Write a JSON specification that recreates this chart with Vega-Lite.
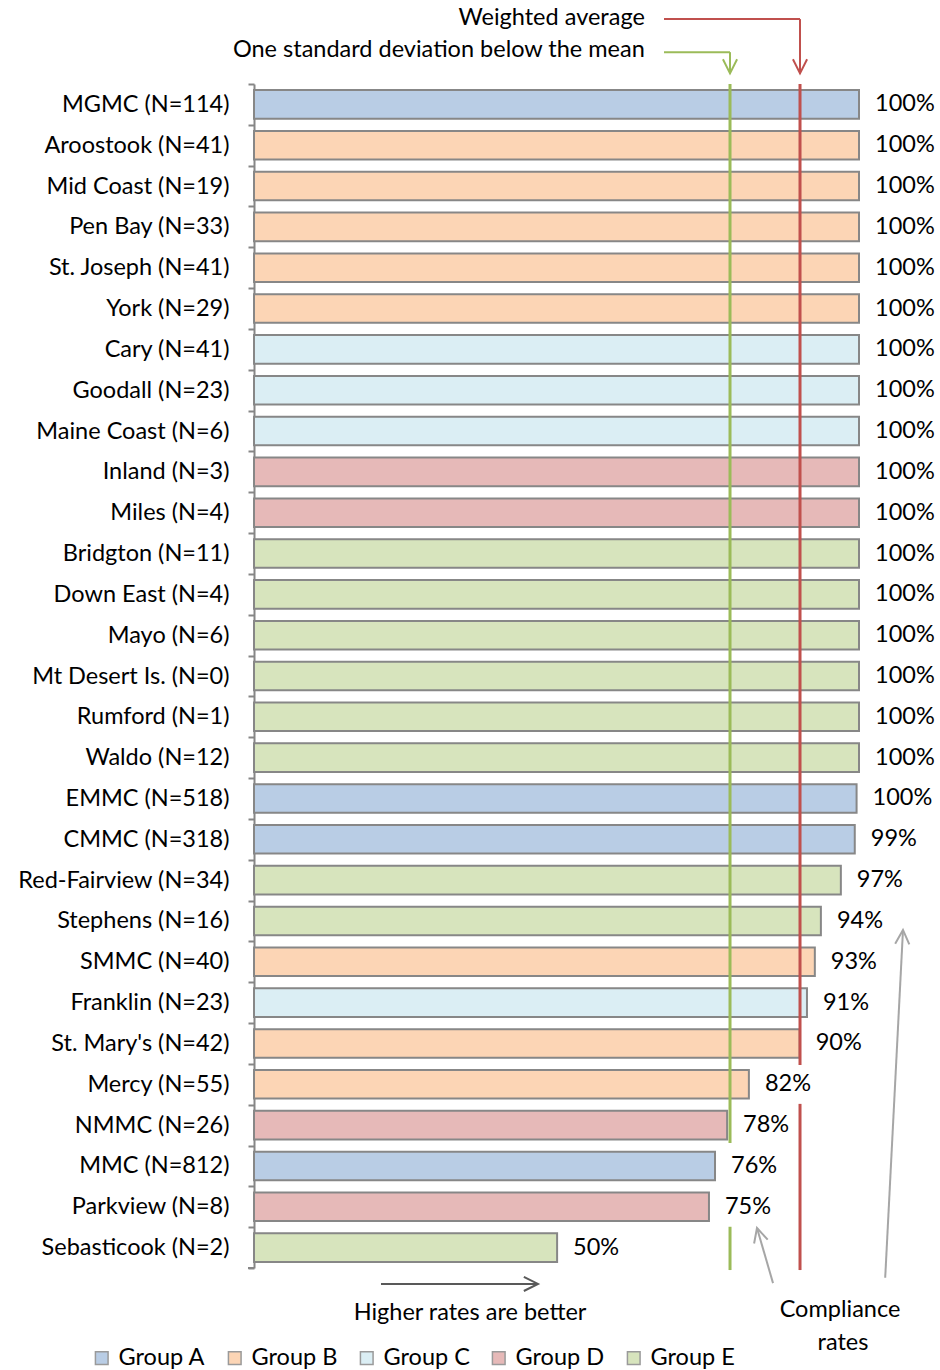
{
  "$schema": "https://vega.github.io/schema/vega-lite/v6.json",
  "width": 605,
  "height": 1184,
  "autosize": {"type": "none"},
  "padding": {"left": 254, "top": 84, "right": 81, "bottom": 102},
  "background": "white",
  "config": {"view": {"stroke": null}, "font": "Lato"},
  "datasets": {
    "rates": [
      {"name": "MGMC (N=114)", "group": "Group A", "rate": 1.0},
      {"name": "Aroostook (N=41)", "group": "Group B", "rate": 1.0},
      {"name": "Mid Coast  (N=19)", "group": "Group B", "rate": 1.0},
      {"name": "Pen Bay (N=33)", "group": "Group B", "rate": 1.0},
      {"name": "St. Joseph (N=41)", "group": "Group B", "rate": 1.0},
      {"name": "York (N=29)", "group": "Group B", "rate": 1.0},
      {"name": "Cary (N=41)", "group": "Group C", "rate": 1.0},
      {"name": "Goodall (N=23)", "group": "Group C", "rate": 1.0},
      {"name": "Maine Coast  (N=6)", "group": "Group C", "rate": 1.0},
      {"name": "Inland (N=3)", "group": "Group D", "rate": 1.0},
      {"name": "Miles (N=4)", "group": "Group D", "rate": 1.0},
      {"name": "Bridgton (N=11)", "group": "Group E", "rate": 1.0},
      {"name": "Down East (N=4)", "group": "Group E", "rate": 1.0},
      {"name": "Mayo (N=6)", "group": "Group E", "rate": 1.0},
      {"name": "Mt Desert Is. (N=0)", "group": "Group E", "rate": 1.0},
      {"name": "Rumford (N=1)", "group": "Group E", "rate": 1.0},
      {"name": "Waldo (N=12)", "group": "Group E", "rate": 1.0},
      {"name": "EMMC (N=518)", "group": "Group A", "rate": 0.996},
      {"name": "CMMC (N=318)", "group": "Group A", "rate": 0.993},
      {"name": "Red-Fairview (N=34)", "group": "Group E", "rate": 0.97},
      {"name": "Stephens (N=16)", "group": "Group E", "rate": 0.937},
      {"name": "SMMC (N=40)", "group": "Group B", "rate": 0.927},
      {"name": "Franklin (N=23)", "group": "Group C", "rate": 0.914},
      {"name": "St. Mary's (N=42)", "group": "Group B", "rate": 0.902},
      {"name": "Mercy (N=55)", "group": "Group B", "rate": 0.818},
      {"name": "NMMC (N=26)", "group": "Group D", "rate": 0.782},
      {"name": "MMC (N=812)", "group": "Group A", "rate": 0.762},
      {"name": "Parkview (N=8)", "group": "Group D", "rate": 0.752},
      {"name": "Sebasticook (N=2)", "group": "Group E", "rate": 0.501}
    ],
    "lines": [
      {"kind": "avg", "x": 0.9025, "x2": 0.9025, "y": -0.5, "y2": 23.53},
      {"kind": "avg", "x": 0.9025, "x2": 0.9025, "y": 24.48, "y2": 28.55},
      {"kind": "sd", "x": 0.7868, "x2": 0.7868, "y": -0.5, "y2": 25.44},
      {"kind": "sd", "x": 0.7868, "x2": 0.7868, "y": 27.49, "y2": 28.55}
    ],
    "pointers": [
      {"kind": "avg", "x": 0.6777, "x2": 0.9025, "y": -2.09, "y2": -2.09},
      {"kind": "avg", "x": 0.9025, "x2": 0.9025, "y": -2.09, "y2": -0.76},
      {"kind": "sd", "x": 0.6777, "x2": 0.7868, "y": -1.28, "y2": -1.28},
      {"kind": "sd", "x": 0.7868, "x2": 0.7868, "y": -1.28, "y2": -0.76},
      {"kind": "gray", "x": 1.0433, "x2": 1.0727, "y": 28.74, "y2": 20.22},
      {"kind": "gray", "x": 0.8579, "x2": 0.8314, "y": 28.87, "y2": 27.52},
      {"kind": "black", "x": 0.2099, "x2": 0.4694, "y": 28.89, "y2": 28.89},
      {"kind": "axis", "x": -0.0099, "x2": 0.0, "y": 28.5, "y2": 28.5}
    ],
    "heads": [
      {"kind": "avg", "x": 0.9025, "y": -0.76, "angle": 180},
      {"kind": "sd", "x": 0.7868, "y": -0.76, "angle": 180},
      {"kind": "gray", "x": 1.0727, "y": 20.22, "angle": 3},
      {"kind": "gray", "x": 0.8314, "y": 27.52, "angle": -16},
      {"kind": "black", "x": 0.4694, "y": 28.89, "angle": 90}
    ],
    "notes": [
      {"text": "Weighted average", "x": 0.646, "y": -2.12, "anchor": "right"},
      {"text": "One standard deviation below the mean", "x": 0.646, "y": -1.33, "anchor": "right"},
      {"text": "Higher rates are better", "x": 0.357, "y": 29.6, "anchor": "center"},
      {"text": "Compliance", "x": 0.9686, "y": 29.53, "anchor": "center"},
      {"text": "rates", "x": 0.9736, "y": 30.34, "anchor": "center"}
    ]
  },
  "layer": [
    {
      "data": {"name": "rates"},
      "encoding": {
        "y": {
          "field": "name", "type": "nominal", "sort": null,
          "scale": {"paddingInner": 0, "paddingOuter": 0},
          "axis": {
            "title": null, "labelFontSize": 23.5, "labelFont": "Lato", "labelColor": "#000000",
            "labelPadding": 19, "tickSize": 6, "tickColor": "#868686", "tickWidth": 2,
            "domainColor": "#868686", "domainWidth": 2, "tickBand": "extent",
            "labelLimit": 400, "grid": false
          }
        },
        "x": {"field": "rate", "type": "quantitative", "scale": {"domain": [0, 1], "nice": false, "zero": false}, "axis": null}
      },
      "layer": [
        {
          "mark": {"type": "bar", "height": {"band": 0.7}, "stroke": "#878787", "strokeWidth": 2},
          "encoding": {
            "color": {
              "field": "group", "type": "nominal",
              "scale": {
                "domain": ["Group A", "Group B", "Group C", "Group D", "Group E"],
                "range": ["#B9CDE5", "#FCD5B5", "#DBEEF4", "#E6B9B8", "#D7E4BD"]
              },
              "legend": {
                "orient": "none", "legendX": -164, "legendY": 1262, "direction": "horizontal",
                "columns": 5, "title": null, "labelFontSize": 23.5, "labelFont": "Lato",
                "labelColor": "#000000", "symbolType": "square", "symbolSize": 160,
                "symbolStrokeWidth": 1.5, "symbolStrokeColor": "#9A9A9A",
                "columnPadding": 17, "labelOffset": 5
              }
            }
          }
        },
        {
          "mark": {"type": "text", "align": "left", "baseline": "middle", "dx": 16, "fontSize": 23.5, "font": "Lato", "color": "#000000"},
          "encoding": {"text": {"field": "rate", "type": "quantitative", "format": ".0%"}}
        }
      ]
    },
    {
      "layer": [
        {
          "data": {"name": "lines"},
          "mark": {"type": "rule", "strokeWidth": 3},
          "encoding": {
            "x": {"field": "x", "type": "quantitative", "scale": {"domain": [0, 1], "nice": false, "zero": false}, "axis": null},
            "x2": {"field": "x2"},
            "y": {"field": "y", "type": "quantitative", "scale": {"domain": [-0.5, 28.5], "reverse": true, "nice": false, "zero": false}, "axis": null},
            "y2": {"field": "y2"},
            "stroke": {"field": "kind", "type": "nominal", "scale": {"domain": ["avg", "sd", "gray", "black", "axis"], "range": ["#C0504D", "#9BBB59", "#A6A6A6", "#595959", "#868686"]}, "legend": null}
          }
        },
        {
          "data": {"name": "pointers"},
          "mark": {"type": "rule", "strokeWidth": 2},
          "encoding": {
            "x": {"field": "x", "type": "quantitative", "scale": {"domain": [0, 1], "nice": false, "zero": false}, "axis": null},
            "x2": {"field": "x2"},
            "y": {"field": "y", "type": "quantitative", "scale": {"domain": [-0.5, 28.5], "reverse": true, "nice": false, "zero": false}, "axis": null},
            "y2": {"field": "y2"},
            "stroke": {"field": "kind", "type": "nominal", "scale": {"domain": ["avg", "sd", "gray", "black", "axis"], "range": ["#C0504D", "#9BBB59", "#A6A6A6", "#595959", "#868686"]}, "legend": null}
          }
        },
        {
          "data": {"name": "heads"},
          "mark": {"type": "point", "shape": "M-1,2L0,0L1,2", "filled": false, "size": 200, "strokeWidth": 2, "opacity": 1},
          "encoding": {
            "x": {"field": "x", "type": "quantitative", "scale": {"domain": [0, 1], "nice": false, "zero": false}, "axis": null},
            "y": {"field": "y", "type": "quantitative", "scale": {"domain": [-0.5, 28.5], "reverse": true, "nice": false, "zero": false}, "axis": null},
            "angle": {"field": "angle", "type": "quantitative", "scale": null},
            "stroke": {"field": "kind", "type": "nominal", "scale": {"domain": ["avg", "sd", "gray", "black", "axis"], "range": ["#C0504D", "#9BBB59", "#A6A6A6", "#595959", "#868686"]}, "legend": null}
          }
        },
        {
          "data": {"name": "notes"},
          "transform": [{"filter": "datum.anchor == 'right'"}],
          "mark": {"type": "text", "align": "right", "baseline": "middle", "fontSize": 23.5, "font": "Lato", "color": "#000000"},
          "encoding": {
            "x": {"field": "x", "type": "quantitative", "scale": {"domain": [0, 1], "nice": false, "zero": false}, "axis": null},
            "y": {"field": "y", "type": "quantitative", "scale": {"domain": [-0.5, 28.5], "reverse": true, "nice": false, "zero": false}, "axis": null},
            "text": {"field": "text"}
          }
        },
        {
          "data": {"name": "notes"},
          "transform": [{"filter": "datum.anchor == 'center'"}],
          "mark": {"type": "text", "align": "center", "baseline": "middle", "fontSize": 23.5, "font": "Lato", "color": "#000000"},
          "encoding": {
            "x": {"field": "x", "type": "quantitative", "scale": {"domain": [0, 1], "nice": false, "zero": false}, "axis": null},
            "y": {"field": "y", "type": "quantitative", "scale": {"domain": [-0.5, 28.5], "reverse": true, "nice": false, "zero": false}, "axis": null},
            "text": {"field": "text"}
          }
        }
      ]
    }
  ],
  "resolve": {"scale": {"y": "independent"}}
}
